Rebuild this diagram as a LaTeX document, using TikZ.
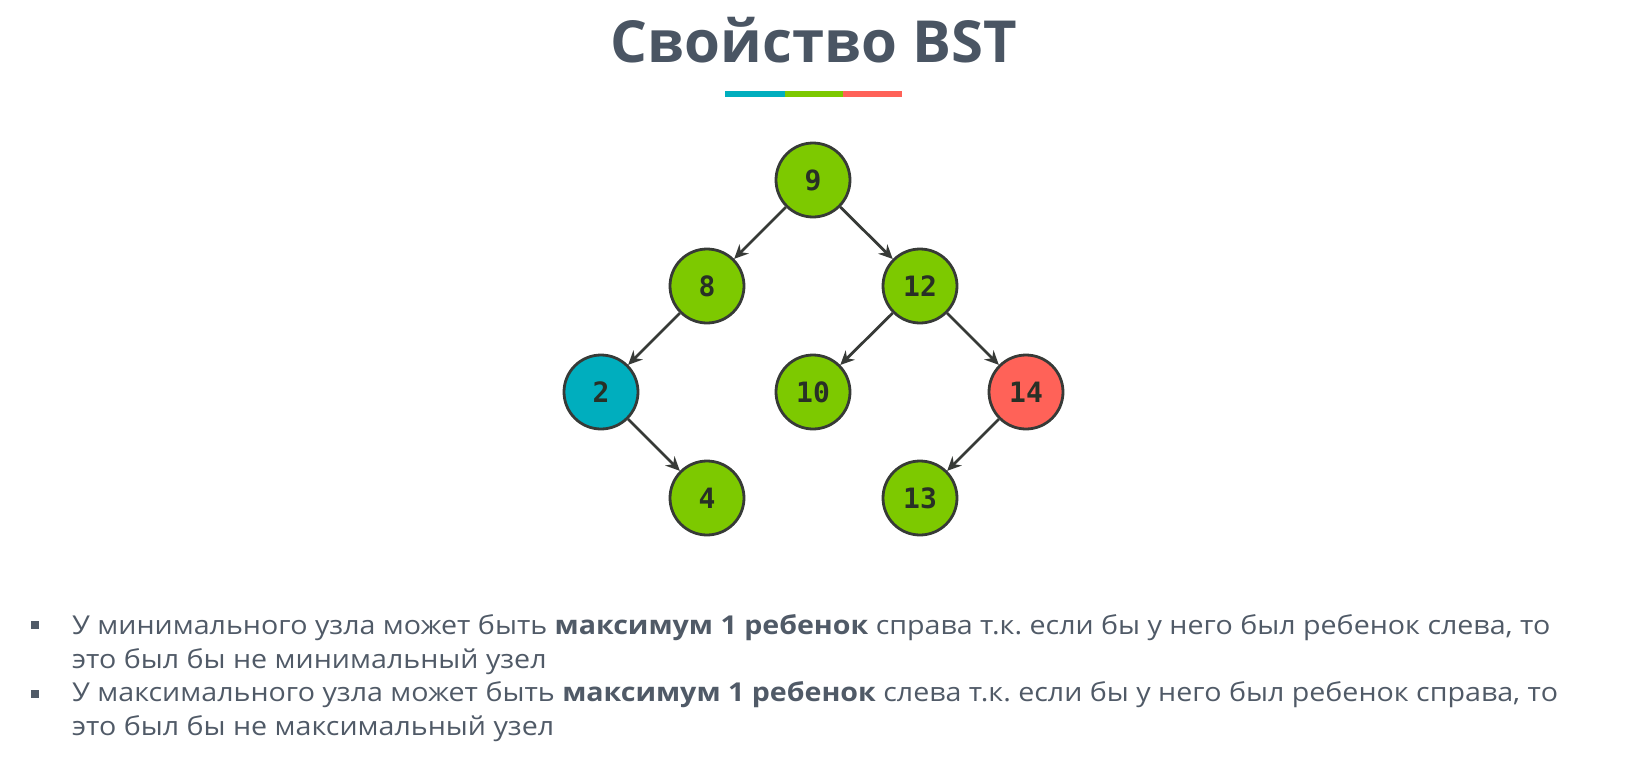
\documentclass[tikz,border=0pt]{standalone}
\usepackage{fontspec}
\setmainfont{Open Sans}[FakeStretch=1.10]
\newfontfamily\titlefont{Open Sans}
\newfontfamily\numfont{DejaVu Sans Mono}
\usetikzlibrary{arrows.meta}
\frenchspacing
\definecolor{textgray}{RGB}{80, 90, 103}
\definecolor{titlegray}{RGB}{74, 85, 99}
\definecolor{nodegreen}{RGB}{125, 201, 0}
\definecolor{nodeblue}{RGB}{0, 174, 190}
\definecolor{nodered}{RGB}{255, 98, 88}
\definecolor{edgegray}{RGB}{55, 58, 55}
\definecolor{numgray}{RGB}{40, 48, 38}
\tikzstyle{treenode} = [circle, minimum size=74pt, inner sep=0pt,
                        draw=edgegray, line width=2.8pt, fill=nodegreen,
                        text=numgray, font=\numfont\bfseries\fontsize{28}{28}\selectfont]
\tikzstyle{arrow} = [line width=2.8pt, draw=edgegray, -{Stealth[length=14pt, width=13pt]}]
\tikzstyle{bullettext} = [anchor=base west, align=left, inner sep=0pt,
                          text=textgray, font=\fontsize{26}{34}\selectfont]
\tikzstyle{bulletmark} = [rectangle, minimum size=8pt, inner sep=0pt, fill=textgray]

\begin{document}
\begin{tikzpicture}[x=1pt, y=-1pt]
        \useasboundingbox (0,0) rectangle (1628,771);
        
        % title
        \node (Title) [anchor=base, text=titlegray, inner sep=0pt,
                       font=\titlefont\bfseries\fontsize{58}{58}\selectfont] at (814,62) {Свойство BST};
        \fill [nodeblue] (725,90.5) rectangle (785,96.5);
        \fill [nodegreen] (785,90.5) rectangle (843,96.5);
        \fill [nodered] (843,90.5) rectangle (902,96.5);
        
        % tree
        \node (Node9) [treenode] at (813,180) {9};
        
        \node (Node8) [treenode] at (707,286) {8};
        
        \node (Node12) [treenode] at (920,286) {12};
        
        \node (Node2) [treenode, fill=nodeblue] at (601,392) {2};
        
        \node (Node10) [treenode] at (813,392) {10};
        
        \node (Node14) [treenode, fill=nodered] at (1026,392) {14};
        
        \node (Node4) [treenode] at (707,498) {4};
        
        \node (Node13) [treenode] at (920,498) {13};
        
        \draw [arrow] (Node9) -- (Node8);
        \draw [arrow] (Node9) -- (Node12);
        \draw [arrow] (Node8) -- (Node2);
        \draw [arrow] (Node2) -- (Node4);
        \draw [arrow] (Node12) -- (Node10);
        \draw [arrow] (Node12) -- (Node14);
        \draw [arrow] (Node14) -- (Node13);
        
        % bullets (base = last line)
        \node (Bullet1) [bulletmark] at (35,625) {};
        \node (Text1) [bullettext] at (72,668) {У минимального узла может быть \textbf{максимум 1 ребенок} справа т.к. если бы у него был ребенок слева, то\\это был бы не минимальный узел};
        
        \node (Bullet2) [bulletmark] at (35,694) {};
        \node (Text2) [bullettext] at (72,735) {У максимального узла может быть \textbf{максимум 1 ребенок} слева т.к. если бы у него был ребенок справа, то\\это был бы не максимальный узел};
        
\end{tikzpicture}
\end{document}
